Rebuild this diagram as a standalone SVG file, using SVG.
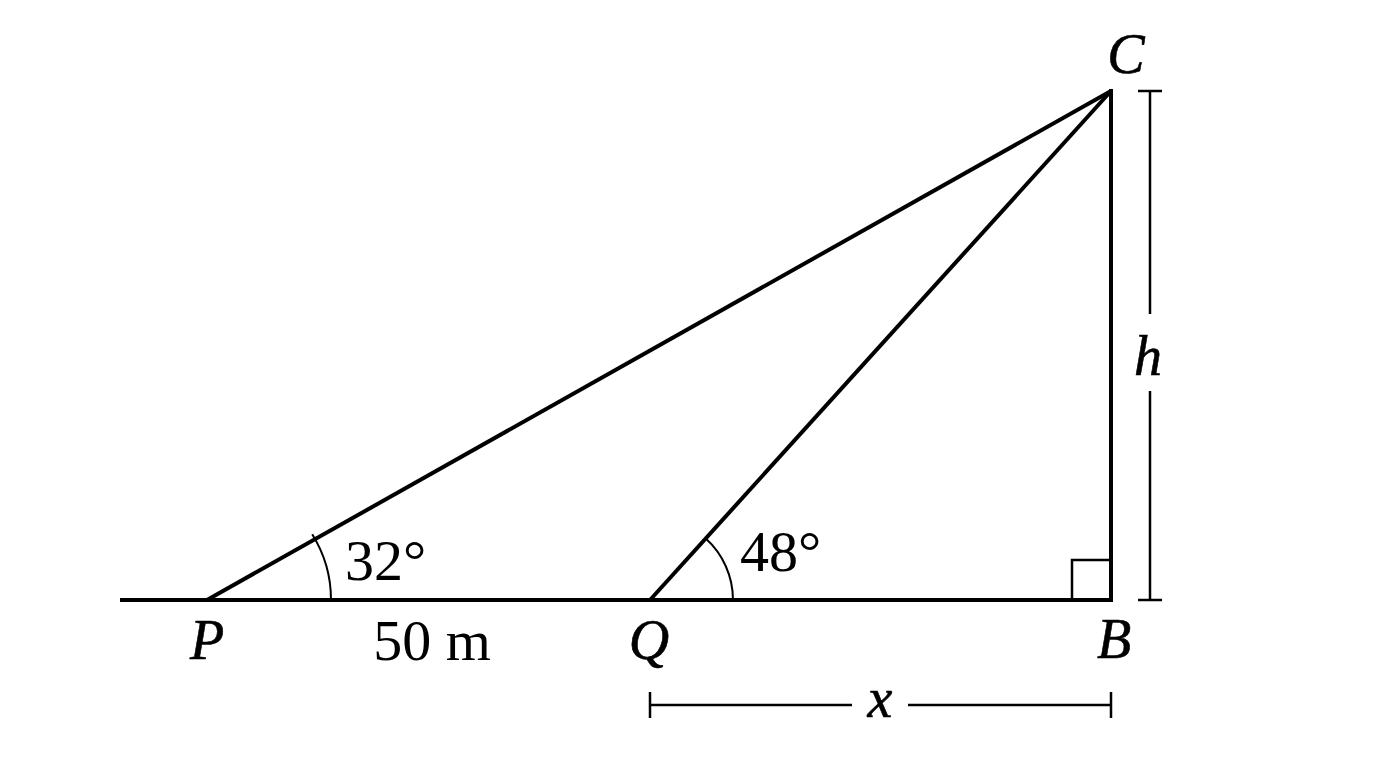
<svg xmlns="http://www.w3.org/2000/svg" width="1376" height="768" viewBox="0 0 1376 768">
<style>
.main{stroke:#000;stroke-width:4;fill:none;stroke-linecap:butt}
.thin{stroke:#000;stroke-width:2;fill:none}
.dim{stroke:#000;stroke-width:2.5;fill:none}
.lbl{font-family:"Liberation Serif",serif;font-style:italic;font-size:56px;fill:#000;stroke:#000;stroke-width:0.6}
.num{font-family:"Liberation Serif",serif;font-size:58px;fill:#000}
</style>
<rect width="1376" height="768" fill="#fff"/>
<g id="connectors">
<line class="main" x1="120" y1="600" x2="1113" y2="600"/>
<line class="main" x1="207" y1="600" x2="1111" y2="91"/>
<line class="main" x1="650" y1="600" x2="1111" y2="91"/>
<line class="main" x1="1111" y1="89" x2="1111" y2="602"/>
</g>
<g id="right-angle"><polyline class="dim" points="1072,600 1072,560 1111,560"/></g>
<g id="angle-P">
<path class="thin" d="M331,600 A124,124 0 0 0 312.2,534.3"/>
<text class="num" x="345" y="580">32°</text>
</g>
<g id="angle-Q">
<path class="thin" d="M733,600 A83,83 0 0 0 705.5,538.3"/>
<text class="num" x="740" y="571">48°</text>
</g>
<g id="node-P"><text class="lbl" x="207" y="659" text-anchor="middle">P</text></g>
<g id="node-Q"><text class="lbl" x="649" y="659" text-anchor="middle">Q</text></g>
<g id="node-B"><text class="lbl" x="1114" y="658" text-anchor="middle">B</text></g>
<g id="node-C"><text class="lbl" x="1126" y="73" text-anchor="middle">C</text></g>
<g id="label-50m"><text class="num" x="432" y="660" text-anchor="middle">50 m</text></g>
<g id="dim-h">
<line class="dim" x1="1150" y1="91" x2="1150" y2="314"/>
<line class="dim" x1="1150" y1="391" x2="1150" y2="600"/>
<line class="dim" x1="1138" y1="91" x2="1162" y2="91"/>
<line class="dim" x1="1138" y1="600" x2="1162" y2="600"/>
<text class="lbl" x="1148" y="375" text-anchor="middle">h</text>
</g>
<g id="dim-x">
<line class="dim" x1="650" y1="705" x2="852" y2="705"/>
<line class="dim" x1="908" y1="705" x2="1111" y2="705"/>
<line class="dim" x1="650" y1="692" x2="650" y2="718"/>
<line class="dim" x1="1111" y1="692" x2="1111" y2="718"/>
<text class="lbl" x="880" y="717" text-anchor="middle">x</text>
</g>
</svg>
